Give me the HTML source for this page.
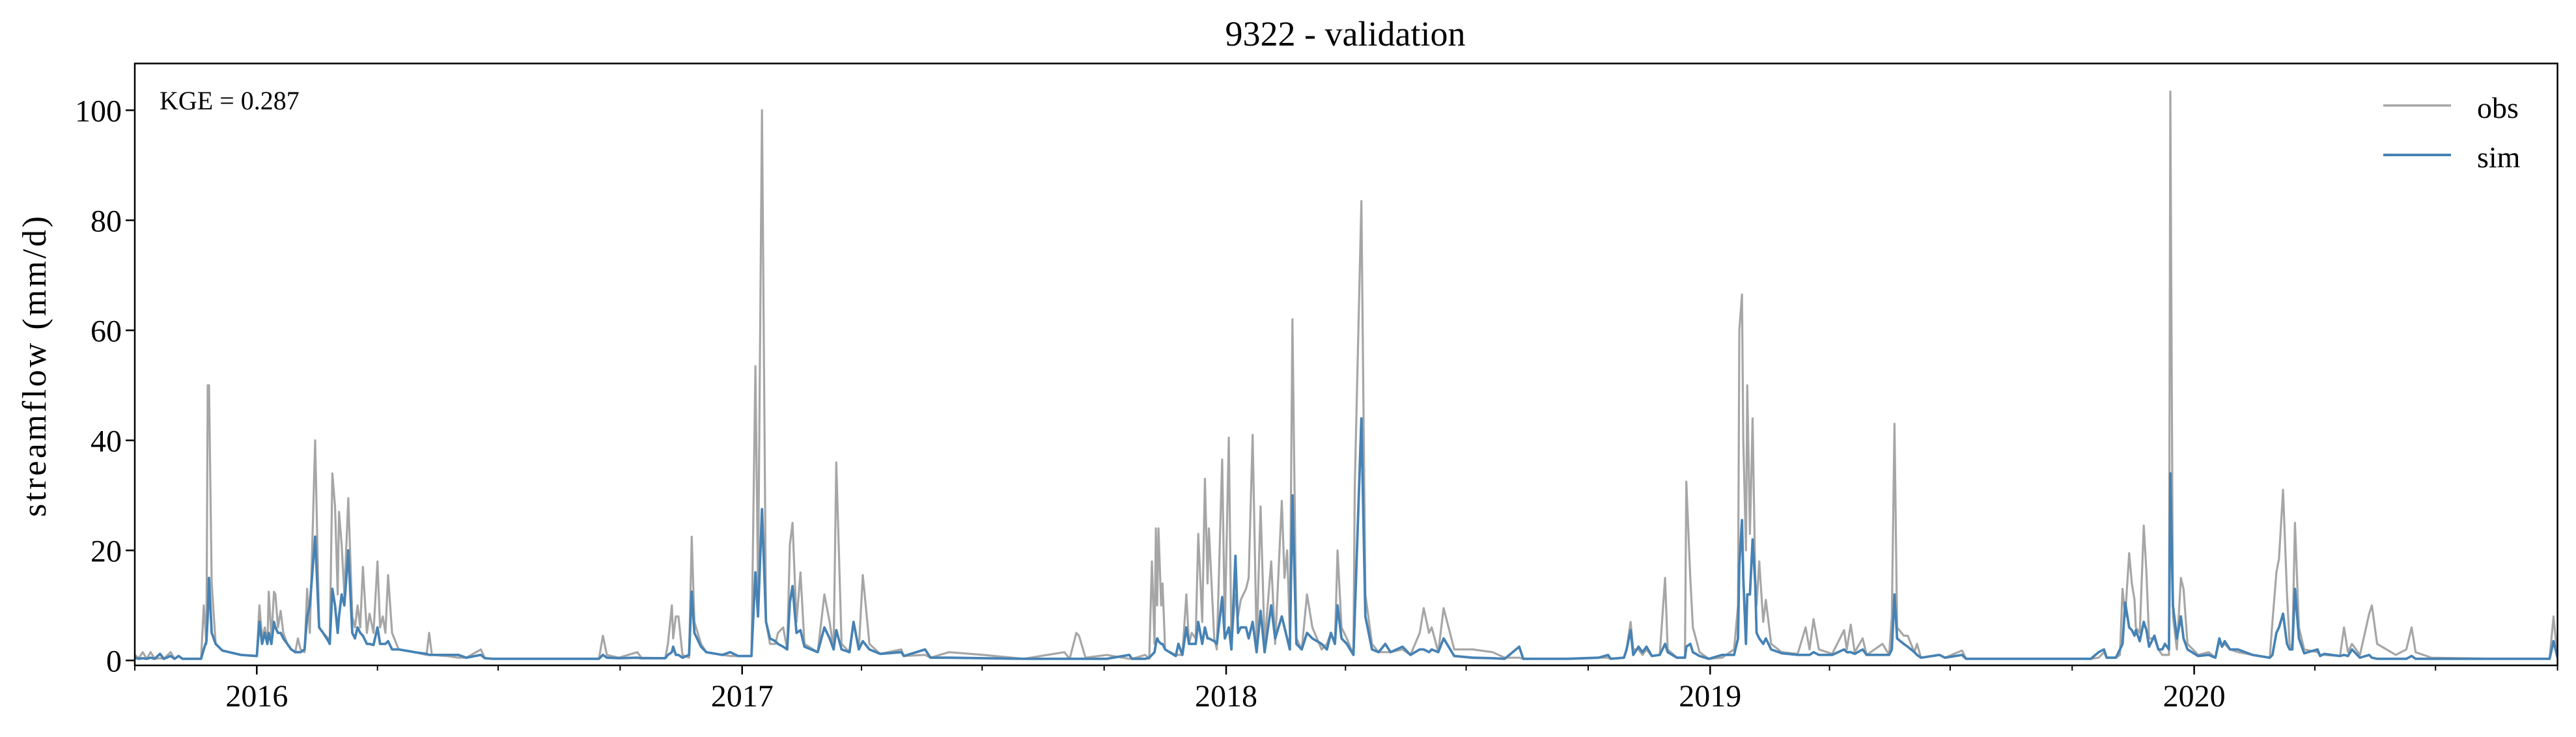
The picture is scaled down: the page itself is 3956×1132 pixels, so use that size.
<!DOCTYPE html>
<html>
<head>
<meta charset="utf-8">
<style>
html,body{margin:0;padding:0;background:#fff;}
svg{display:block;}
text{font-family:"Liberation Serif",serif;fill:#000;}
</style>
</head>
<body>
<svg id="chart" width="3956" height="1132" viewBox="0 0 3956 1132" xmlns="http://www.w3.org/2000/svg">
  <rect x="0" y="0" width="3956" height="1132" fill="#fff"/>
  <text x="2066" y="70" font-size="54" text-anchor="middle">9322 - validation</text>
  <g id="plot"></g>
  <g id="axes"></g>
  <text x="245" y="168" font-size="40">KGE = 0.287</text>
  <text transform="translate(70,563) rotate(-90)" font-size="52" text-anchor="middle" textLength="462">streamflow (mm/d)</text>
  <g>
    <g>
      <line x1="3660" y1="162" x2="3764" y2="162" stroke="#a6a6a6" stroke-width="3.5"/>
      <text x="3804" y="181" font-size="46">obs</text>
    </g>
    <g>
      <line x1="3660" y1="238" x2="3764" y2="238" stroke="#4682b4" stroke-width="4"/>
      <text x="3804" y="257" font-size="46">sim</text>
    </g>
  </g>
</svg>
<script>
// days since 2015-10-01
const keyDays = [0,3,6,9,12,15,19,22,27,30,33,36,50,52,54,55,56,58,61,66,80,92,94,96,98,100,101,103,105,106,108,110,112,115,118,121,123,125,128,130,132,136,139,142,146,147,149,151,153,154,156,158,161,164,166,168,170,172,175,177,180,183,185,187,189,191,194,199,211,220,222,224,235,244,250,261,264,270,300,320,350,353,356,365,379,382,400,402,405,406,408,410,413,418,420,422,427,431,443,449,455,465,468,470,473,476,479,483,485,489,492,494,496,499,502,505,515,520,524,527,529,533,539,542,546,549,554,562,578,580,596,600,614,640,670,701,705,710,712,717,733,750,752,762,765,767,769,770,771,772,774,775,777,785,787,790,793,795,797,800,802,805,807,809,810,814,816,820,822,825,827,830,832,834,838,840,843,846,849,852,857,860,865,867,869,871,873,876,880,884,888,895,899,902,905,907,910,914,919,920,925,928,933,938,943,947,956,962,969,972,976,978,983,987,995,1009,1024,1033,1044,1047,1080,1104,1111,1113,1123,1125,1128,1130,1134,1137,1140,1144,1150,1154,1156,1163,1169,1170,1173,1175,1180,1187,1197,1206,1209,1210,1212,1213,1215,1216,1218,1220,1222,1223,1225,1228,1230,1234,1242,1254,1260,1263,1266,1270,1280,1289,1291,1294,1297,1303,1306,1318,1323,1325,1327,1329,1334,1337,1342,1344,1347,1361,1365,1378,1381,1400,1440,1475,1481,1485,1487,1494,1497,1499,1501,1504,1506,1508,1509,1512,1515,1517,1519,1523,1526,1529,1531,1534,1535,1537,1540,1543,1545,1548,1556,1564,1569,1572,1574,1576,1580,1586,1597,1610,1612,1615,1617,1620,1623,1625,1627,1629,1632,1636,1646,1648,1651,1663,1666,1669,1672,1678,1685,1687,1691,1705,1713,1717,1720,1732,1780,1821,1824,1827];
const obsValues = [1,0.4,1.5,0.3,1.5,0.3,0.4,0.3,1.5,0.3,0.8,0.3,0.3,10,3,50,50,14,3,1.8,1,0.8,10,4,6,3,12.5,4,12.5,12,6,9,5,3,2,1.5,4,2,1.5,13,5,40,6,5,4,3,34,28,12,27,21,12,29.5,8,6,10,6,17,5,8.5,5,18,6,8,5,15.5,5,2,1.5,1,5,1,0.8,0.5,0.5,2,0.4,0.3,0.3,0.3,0.3,4.5,1,0.5,1.5,0.5,0.4,3,10,4,8,8,1,0.5,22.5,7,3,1.5,1,0.8,0.8,0.8,53.5,13,100,7,3,3,5,6,2,21,25,7,16,3,1.5,12,7,2,36,3,1.5,7,2,15.5,3,1.2,2,0.8,1,0.5,1.5,1,0.3,1.5,0.3,5,4.5,0.5,1,0.3,0.3,1,0.3,18,3,24,10,24,10,14,2,1,1,1,12,3,5,4,23,7,33,14,24,4,2,36.5,6,40.5,3,12,8,11,13,15,41,3,28,3,18,3,29,15,20,5,62,4,2,12,6,2,3,5,3,20,6,4,1,31.5,83.5,12,3,1.5,1.5,1.5,2,1,5,9.5,5,6,1.5,9.5,2,2,1.5,0.5,0.5,0.3,0.3,0.5,0.5,0.3,0.5,2,7,2,2,1,2,0.8,1,15,2,0.5,0.5,32.5,15,6,1.5,0.3,0.5,2,10,60,66.5,40,20,50,23,44,15,10,18,7,11,3,1.5,1.2,6,2,7.5,2,1.2,5.5,2,6.5,1.5,4,1,3,1,8,43,6,4.5,4.5,1.5,3,0.5,1,0.5,1.8,0.3,0.3,0.3,0.3,0.5,1.5,0.5,0.5,1,13,8,19.5,14,11,6,5,24.5,16,4,4,2,1,1,1,103.4,8,2,15,13,3,1,1.5,0.5,3.5,2.5,3,2,1.5,1,0.5,7,16,18.5,31,12,3,2,25,6,2,1.5,1,1,0.8,6,1.5,3,1,8.5,10,3,1,2,6,1.5,0.5,0.3,0.3,8,0.5];
const simValues = [0.5,0.3,0.4,0.3,0.5,0.3,1.2,0.3,0.8,0.3,0.8,0.3,0.3,2,3.5,8,15,5,3,1.8,1,0.8,7,3,5,3,5,3,7,6,5,5,4,3,2,1.5,1.5,1.5,2,8,10,22.5,6,5,3.5,3,13,10,5,8,12,10,20,5,4,6,5,4.5,3,3,2.8,6,3,3,3,3.5,2,2,1.5,1.2,1,1,1,1,0.5,1,0.4,0.3,0.3,0.3,0.3,1,0.5,0.4,0.5,0.4,0.4,1,1.5,2.5,1,1,0.5,1,12.5,5,2.5,1.5,1,1.5,0.8,0.8,16,8,27.5,7,4,3.5,3,2.5,2,10.5,13.5,5,5.5,2.5,1.5,6,4,2,5.5,2,1.5,7,2,3.5,2,1.2,1.5,0.8,2,0.5,0.5,0.4,0.3,0.3,0.3,0.3,0.3,0.3,0.3,1,0.3,0.3,0.5,1,1.5,3,4,3.5,3,3,2,0.8,3,1,6,3,3,3,7,3,6,4,4,3.5,3,11.5,4,6,2,19,5,6,6,4,7,1.5,9,1.5,10,4,8,6,4,2,30,3,2,5,4,3,2,5,3,10,4,3,1,8,44,8,2,1.5,3,1.5,2.5,1,2,2,1.5,2,1.5,4,0.8,0.5,0.4,0.3,2.5,0.3,0.3,0.5,1,0.3,0.5,2,5.5,1,2.5,1.5,2.5,0.8,1,3,1.5,0.5,0.5,2.5,3,1.5,0.8,0.3,1,1,4,17.5,25.5,15,3,12,12,22,14,5,4,3,4,2,1.3,1,1,1,1.5,1,1,2,1.5,1.5,1.2,2,1,1,1,2,12,4,3,2.5,1.5,1,0.5,1,0.5,1,0.3,0.3,0.3,0.3,1.5,2,0.5,0.5,2,3,10.5,6,5.5,4.5,5.5,3.5,7,5.5,2.5,4.5,2,2,3,2,34,10,4,8,4,2,0.8,1,0.5,4,2.5,3.5,2,2,1,0.5,1,5,6,8.5,3,2,2,13,4,1.3,2,0.8,1.2,0.8,1,0.8,2,0.5,1,0.5,0.3,0.3,0.3,0.8,0.3,0.3,0.3,0.3,3.5,0.5];
const yTickValues = [0,20,40,60,80,100];
const yearTicks = [2016,2017,2018,2019,2020];

const PL = 207, PR = 3927.6, PT = 97.5, PB = 1022;
const DMIN = 0, DMAX = 1827, YMIN = -0.9, YMAX = 108.5;
const NS = 'http://www.w3.org/2000/svg';
function xScale(d){ return PL + (d - DMIN) / (DMAX - DMIN) * (PR - PL); }
function yScale(v){ return PB - (v - YMIN) / (YMAX - YMIN) * (PB - PT); }
const T0 = Date.UTC(2015, 9, 1);
function dayOf(y, m){ return (Date.UTC(y, m, 1) - T0) / 86400000; }

const plot = document.getElementById('plot');
const axes = document.getElementById('axes');

const clip = document.createElementNS(NS, 'clipPath');
clip.setAttribute('id', 'pclip');
const cr = document.createElementNS(NS, 'rect');
cr.setAttribute('x', PL); cr.setAttribute('y', PT);
cr.setAttribute('width', PR - PL); cr.setAttribute('height', PB - PT);
clip.appendChild(cr);
plot.appendChild(clip);

function drawSeries(vals, color, width, name){
  const p = document.createElementNS(NS, 'polyline');
  
  
  const pts = keyDays.map((d, i) => xScale(d).toFixed(1) + ',' + yScale(vals[i]).toFixed(1)).join(' ');
  p.setAttribute('points', pts);
  p.setAttribute('fill', 'none');
  p.setAttribute('stroke', color);
  p.setAttribute('stroke-width', width);
  p.setAttribute('stroke-linejoin', 'round');
  p.setAttribute('clip-path', 'url(#pclip)');
  plot.appendChild(p);
}
drawSeries(obsValues, '#a6a6a6', 3.2, 'obs-line');
drawSeries(simValues, '#4682b4', 3.8, 'sim-line');

function addLine(x1, y1, x2, y2, w, name){
  const l = document.createElementNS(NS, 'line');
  
  
  l.setAttribute('x1', x1); l.setAttribute('y1', y1);
  l.setAttribute('x2', x2); l.setAttribute('y2', y2);
  l.setAttribute('stroke', '#000'); l.setAttribute('stroke-width', w);
  axes.appendChild(l);
}
function addText(x, y, s, anchor, size, name){
  const t = document.createElementNS(NS, 'text');
  
  
  t.setAttribute('x', x); t.setAttribute('y', y);
  t.setAttribute('text-anchor', anchor);
  t.setAttribute('font-size', size);
  t.textContent = s;
  axes.appendChild(t);
}

yTickValues.forEach(v => {
  const y = yScale(v);
  addLine(PL - 14, y, PL, y, 2.5, 'y-tick');
  addText(PL - 20, y + 17, String(v), 'end', 48, 'y-tick-label');
});

yearTicks.forEach(yr => {
  const x = xScale(dayOf(yr, 0));
  addLine(x, PB, x, PB + 14, 2.5, 'x-major-tick');
  addText(x, PB + 63, String(yr), 'middle', 48, 'x-tick-label');
});
for (let yr = 2015; yr <= 2020; yr++) {
  [3, 6, 9].forEach(m => {
    const d = dayOf(yr, m);
    if (d >= DMIN && d <= DMAX) {
      const x = xScale(d);
      addLine(x, PB, x, PB + 8, 2, 'x-minor-tick');
    }
  });
}

const frame = document.createElementNS(NS, 'rect');


frame.setAttribute('x', PL); frame.setAttribute('y', PT);
frame.setAttribute('width', PR - PL); frame.setAttribute('height', PB - PT);
frame.setAttribute('fill', 'none'); frame.setAttribute('stroke', '#000'); frame.setAttribute('stroke-width', 2.5);
axes.appendChild(frame);
</script>
</body>
</html>
